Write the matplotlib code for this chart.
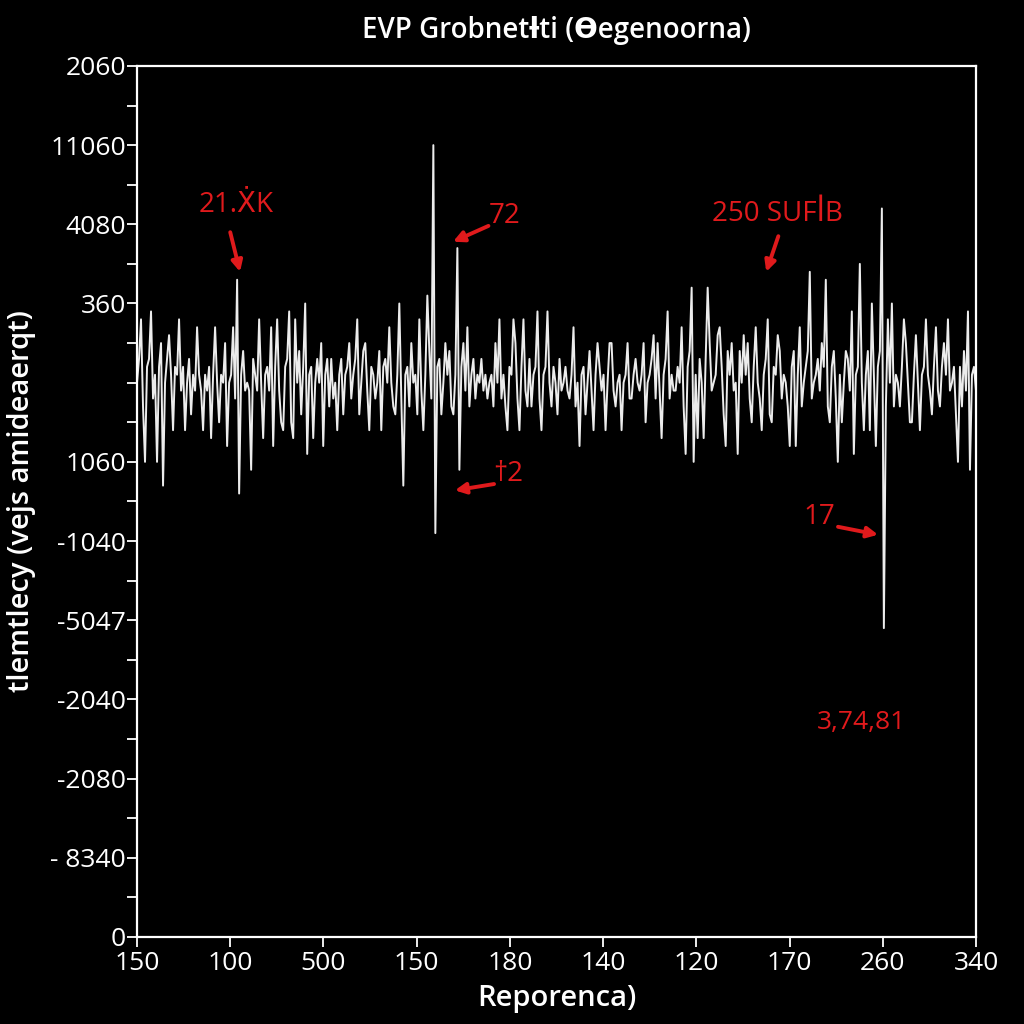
import numpy as np
import matplotlib
matplotlib.use("Agg")
import matplotlib.pyplot as plt

plt.rcParams['font.family'] = ['Open Sans', 'DejaVu Sans']

# signal, in tenths of a y-unit around the baseline
signal = [
    0, 3, 8, -3, -10, 2, 3, 9, -2, 1, -10, 2, 5, -13, 0, 3, 6, 1, -6, 2,
    1, 8, -1, 2, -6, 0, 3, -4, 1, -1, 7, 1, -1, -6, 1, -1, 2, -7, 1, 7,
    0, -5, 1, 0, 5, -8, 0, 1, 7, -2, 13, -14, 1, 4, -1, 0, -1, -11, 3, 1,
    -1, 8, 0, -7, 1, 2, -1, 7, -8, 2, 8, -1, -5, -6, 2, 3, 9, -5, -7, 8,
    0, 4, -4, 2, 10, -9, 1, 2, -7, 0, 3, 0, 5, -8, 1, 3, -3, 3, -2, 0,
    # second stretch
    -6, 1, 3, -4, 1, 2, 5, -2, 1, 3, 8, -4, 0, 4, 5, -1, -6, 2, 1, -2,
    0, 4, -6, 2, 3, 0, 7, 0, -3, -4, 1, 10, -2, -13, 1, 2, -3, 5, 0, 1,
    -4, 8, -1, -6, 1, 11, 4, -2, 30, -19, 2, 3, -4, 0, 5, 1, 4, -3, -4, 1,
    17, -11, 2, 5, -1, 7, -3, 1, 3, -2, 1, 0, 3, -1, 1, -2, 0, 1, -3, 5,
    0, 8, -2, 1, -3, -6, 2, 1, 8, 5, -2, -6, 2, 8, -1, -3, 3,
    # third stretch
    -3, 1, 2, 9, -2, -6, 1, 2, 9, 0, -3, 2, 0, -4, 3, -1, 0, 2, -1, -2,
    1, 7, -3, 0, -8, 1, 2, -4, 0, 4, -1, -6, 1, 5, 2, -1, 1, -6, 0, 5,
    5, -1, -3, 0, 1, -6, 0, 1, 5, -2, -2, 1, 3, 0, -1, 1, 5, -5, 0, 1,
    3, 6, -2, 5, -1, -7, 1, 3, 9, -2, 1, -1, -1, 2, 0, 7, -3, -9, 2, 4,
    12, -10, 1, -7, 3, 0, -7, 3, 12, 5, -1, 0, 1, 6,
    # fourth stretch
    7, 2, -4, -8, 4, 1, 5, -1, 0, -9, 4, 0, 6, 1, 5, -2, -5, 2, 7, 0,
    -2, -6, 1, 3, 8, -4, -5, 2, 1, 6, 4, -2, 1, 0, -3, -8, 2, 4, -8, 1,
    7, -3, 0, 2, 4, 14, -2, 0, 1, 3, -1, 5, 2, 13, -3, -5, 2, 4, -2, -10,
    1, -5, 0, 4, 3, -1, 9, -9, 1, 2, 15, 0, -6, 1, 4, -6, 10, 1, -8, 2,
    4, 22, -31, -3, 8, 0, 10, -3, 1, 0, -3, 2, 8, 5, 0, -5,
    # last stretch
    -5, 1, 6, 0, -6, 1, 2, 8, 1, -1, -4, 2, 7, -1, -3, 2, 5, 1, 8, -1,
    0, 2, -4, -10, 2, -3, 4, -1, 9, -11, 1, 2, -1,
]
baseline = 7

x_labels = ['150', '100', '500', '150', '180', '140', '120', '170', '260', '340']
y_labels = ['0', '- 8340', '-2080', '-2040', '-5047', '-1040', '1060', '',
            '360', '4080', '11060', '2060']

# (text, text position, arrow tail, arrow tip)
notes = [
    ('21.ẊK', (1.06, 9.24), (1.00, 8.90), (1.105, 8.40)),
    ('72', (3.94, 9.10), (3.77, 8.98), (3.39, 8.78)),
    ('†2', (3.98, 5.85), (3.83, 5.72), (3.41, 5.64)),
    ('250 SUFꟾB', (6.87, 9.13), (6.88, 8.85), (6.75, 8.40)),
    ('17', (7.32, 5.30), (7.52, 5.18), (7.95, 5.08)),
    ('3,74,81', (7.77, 2.71), None, None),
]

red = '#e01a1c'
fg = 'white'

fig = plt.figure(figsize=(10.24, 10.24), dpi=100, facecolor='black')
ax = fig.add_axes([0.1338, 0.0850, 0.8193, 0.8506], facecolor='black')

y = baseline + np.array(signal) / 10
x = np.linspace(0, 9, len(y))
ax.plot(x, y, color='#ececec', lw=1.4)

ax.set_xlim(0, 9)
ax.set_ylim(0, 11)
ax.set_xticks(range(len(x_labels)))
ax.set_xticklabels(x_labels)
ax.set_yticks(range(len(y_labels)))
ax.set_yticklabels(y_labels)
ax.set_yticks(np.arange(0.5, 11, 1), minor=True)

for s in ax.spines.values():
    s.set_color(fg)
    s.set_linewidth(1.6)
ax.tick_params(axis='both', which='both', colors=fg, length=7, width=1.3,
               labelsize=19, direction='out')
ax.tick_params(axis='x', pad=3)
ax.tick_params(axis='y', pad=1)

ax.set_title('EVP Grobnetƚti (Ɵegenoorna)', color=fg, fontsize=20,
             fontweight='semibold', pad=20)
ax.set_xlabel('Reporenca)', color=fg, fontsize=21, fontweight='semibold',
              labelpad=6)
ax.set_ylabel('tlemtlecy (vejs amideaerqt)', color=fg, fontsize=21,
              fontweight='semibold', labelpad=10)

for label, txt, tail, tip in notes:
    size = 19 if tail is None else 20
    ax.text(txt[0], txt[1], label, color=red, fontsize=size,
            ha='center', va='center')
    if tail is not None:
        ax.annotate('', xy=tip, xytext=tail,
                    arrowprops=dict(arrowstyle='-|>', color=red, lw=2.8,
                                    mutation_scale=16, shrinkA=0, shrinkB=0))

fig.savefig('out.png', dpi=100, facecolor='black')
